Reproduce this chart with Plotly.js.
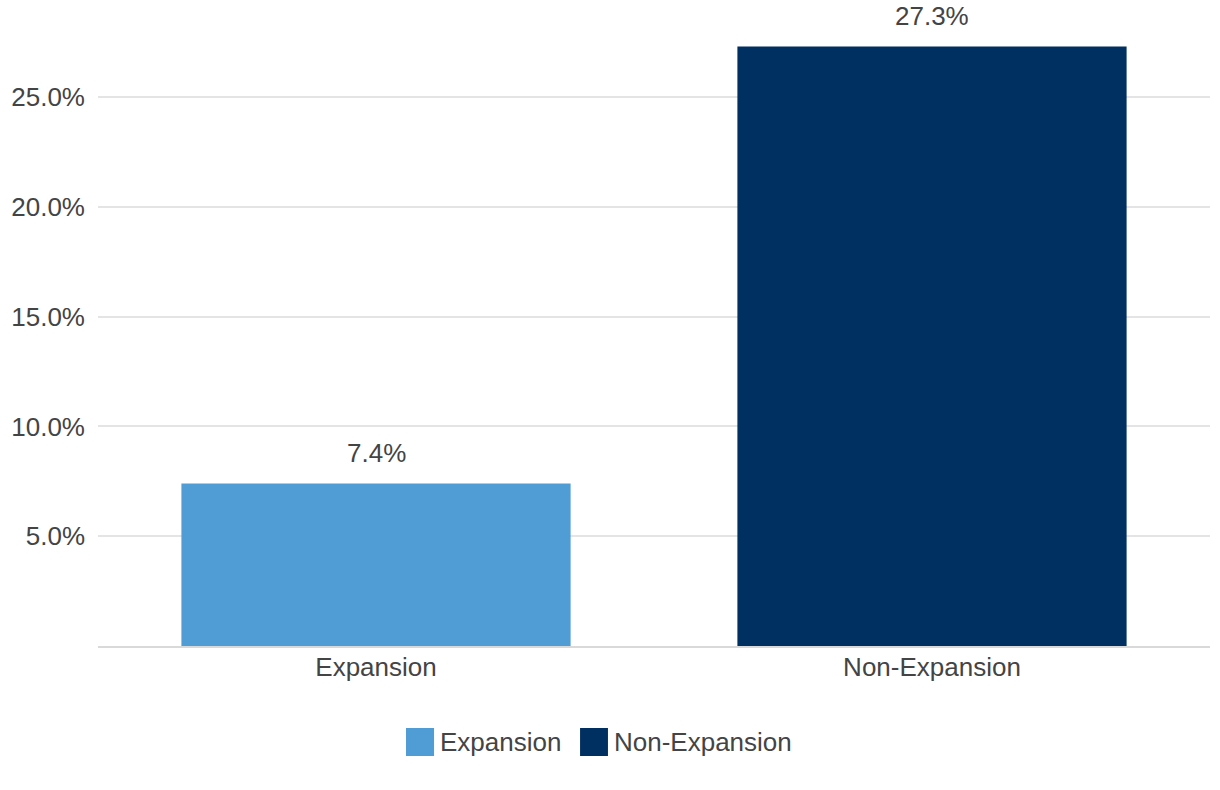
<!DOCTYPE html>
<html>
<head>
<meta charset="utf-8">
<script src="https://cdn.plot.ly/plotly-3.0.1.min.js"></script>
<style>html,body{margin:0;padding:0;background:#fff;}#chart{width:1220px;height:790px;}</style>
</head>
<body>
<div id="chart"></div>
<script>
const categories = ["Expansion", "Non-Expansion"];
const values = [7.4, 27.3];
const colors = ["#509dd5", "#002f61"];
const tickVals = [5, 10, 15, 20, 25];
const tickText = ["5.0%", "10.0%", "15.0%", "20.0%", "25.0%"];

const FONT = "Liberation Sans, Arial, Helvetica, sans-serif";
const TXT = "#444444";

const traces = categories.map((c, i) => ({
  type: "bar",
  name: c,
  x: [c],
  y: [values[i]],
  width: 0.7,
  marker: {color: colors[i]},
  hoverinfo: "skip",
  showlegend: false
}));

const annotations = categories.map((c, i) => ({
  x: c, y: values[i], xref: "x", yref: "y",
  text: values[i].toFixed(1) + "%",
  showarrow: false, yanchor: "bottom", yshift: 14,
  font: {family: FONT, size: 26, color: TXT}
}));

// Custom legend (large square swatches), positioned in paper coordinates
const legendSwatchX = [[0.2770, 0.3022], [0.4335, 0.4586]];
const shapes = categories.map((c, i) => ({
  type: "rect", xref: "paper", yref: "paper",
  x0: legendSwatchX[i][0], x1: legendSwatchX[i][1], y0: -0.1703, y1: -0.1269,
  fillcolor: colors[i], line: {width: 0}
}));
categories.forEach((c, i) => {
  annotations.push({
    x: legendSwatchX[i][1] + 0.0035, y: -0.1486, xref: "paper", yref: "paper",
    xanchor: "left", yanchor: "middle", showarrow: false, text: c,
    font: {family: FONT, size: 26, color: TXT}
  });
});

const layout = {
  width: 1220, height: 790,
  margin: {l: 98, r: 10, t: 0, b: 144},
  paper_bgcolor: "#fff", plot_bgcolor: "#fff",
  barmode: "overlay",
  showlegend: false,
  xaxis: {type: "category", showgrid: false, zeroline: false,
          showline: true, linecolor: "#d9d9d9", linewidth: 2,
          ticks: "", tickfont: {family: FONT, size: 26, color: TXT}, ticklabelstandoff: -3},
  yaxis: {range: [0, 29.42], tickvals: tickVals, ticktext: tickText, showgrid: true,
          gridcolor: "#e4e4e4", gridwidth: 2, zeroline: false, showline: false,
          ticks: "", ticklabelstandoff: 12,
          tickfont: {family: FONT, size: 26, color: TXT}},
  annotations: annotations,
  shapes: shapes
};

Plotly.newPlot("chart", traces, layout, {displayModeBar: false, staticPlot: true});
</script>
</body>
</html>
